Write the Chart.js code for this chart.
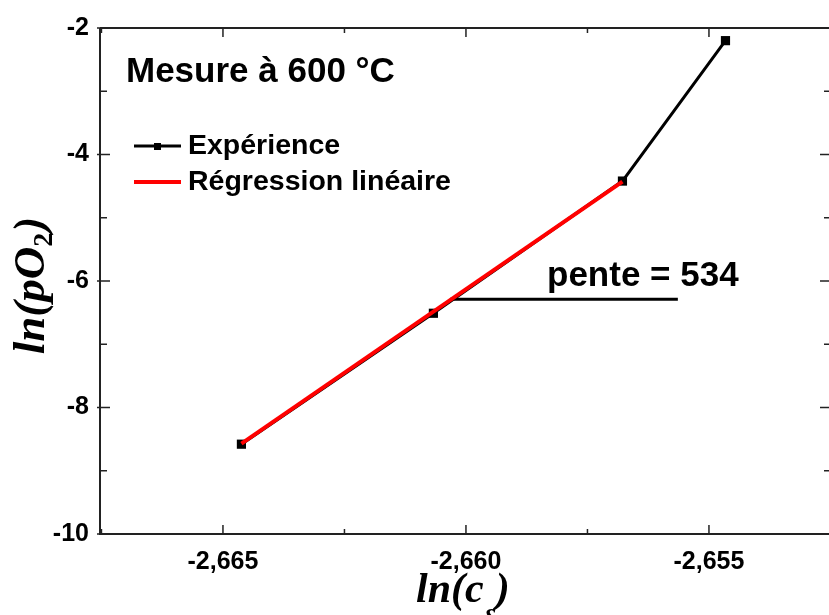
<!DOCTYPE html>
<html>
<head>
<meta charset="utf-8">
<script src="https://cdn.jsdelivr.net/npm/chart.js@4/dist/chart.umd.min.js"></script>
<style>
  body { margin: 0; background: #fff; }
  canvas { display: block; }
</style>
</head>
<body>
<canvas id="grafico_pente" width="829" height="615"></canvas>
<script>
// valeurs
var exp_x = [-2.66462, -2.66067, -2.65678, -2.65466]
var exp_y = [-8.58, -6.51, -4.42, -2.20]
var reg_x = [-2.66462, -2.65678]
var reg_y = [-8.57, -4.43]
var pente_x = [-2.66033, -2.65564]
var pente_y = [-6.29, -6.29]

var ticks_x = [-2.665, -2.660, -2.655]
var ticks_x_mineurs = [-2.6675, -2.6625, -2.6575, -2.6525]
var ticks_y = [-10, -8, -6, -4, -2]
var ticks_y_mineurs = [-9, -7, -5, -3]

var titre = 'Mesure à 600 °C'
var legende_exp = 'Expérience'
var legende_reg = 'Régression linéaire'
var texte_pente = 'pente = 534'

var police = "'Liberation Sans', Arial, sans-serif"
var police_serif = "'Liberation Serif', 'Times New Roman', serif"

function points(xs, ys) {
    var res = []
    for (var i = 0; i < xs.length; i++) {
        res.push({ x: xs[i], y: ys[i] })
    }
    return res
}

var decor = {
    id: 'decor',
    afterDraw: function (chart) {
        var ctx = chart.ctx
        var a = chart.chartArea
        var sx = chart.scales.x
        var sy = chart.scales.y
        var droite = a.right + 1
        ctx.save()

        // cadre
        ctx.strokeStyle = '#222'
        ctx.lineWidth = 2
        ctx.beginPath()
        ctx.moveTo(a.left, a.top)
        ctx.lineTo(droite, a.top)
        ctx.moveTo(a.left, a.top)
        ctx.lineTo(a.left, a.bottom)
        ctx.lineTo(droite, a.bottom)
        ctx.moveTo(droite, a.top)
        ctx.lineTo(droite, a.bottom)
        ctx.stroke()

        // graduations vers l'interieur
        ctx.lineWidth = 1.5
        ctx.beginPath()
        ticks_x.forEach(function (v) {
            var px = sx.getPixelForValue(v)
            ctx.moveTo(px, a.bottom); ctx.lineTo(px, a.bottom - 9)
            ctx.moveTo(px, a.top); ctx.lineTo(px, a.top + 9)
        })
        ticks_x_mineurs.forEach(function (v) {
            var px = sx.getPixelForValue(v)
            ctx.moveTo(px, a.bottom); ctx.lineTo(px, a.bottom - 5)
            ctx.moveTo(px, a.top); ctx.lineTo(px, a.top + 5)
        })
        ticks_y.forEach(function (v) {
            var py = sy.getPixelForValue(v)
            ctx.moveTo(a.left - 3, py); ctx.lineTo(a.left + 10, py)
            ctx.moveTo(droite, py); ctx.lineTo(droite - 10, py)
        })
        ticks_y_mineurs.forEach(function (v) {
            var py = sy.getPixelForValue(v)
            ctx.moveTo(a.left, py); ctx.lineTo(a.left + 7, py)
            ctx.moveTo(droite, py); ctx.lineTo(droite - 6, py)
        })
        ctx.stroke()

        ctx.fillStyle = '#000'
        ctx.textAlign = 'left'
        ctx.textBaseline = 'alphabetic'

        // titre
        ctx.font = 'bold 35px ' + police
        ctx.fillText(titre, 126, 82)

        // legende
        ctx.strokeStyle = '#000'
        ctx.lineWidth = 3
        ctx.beginPath()
        ctx.moveTo(134, 146); ctx.lineTo(181, 146)
        ctx.stroke()
        ctx.fillRect(154, 143, 7, 7)
        ctx.strokeStyle = '#ff0000'
        ctx.lineWidth = 4
        ctx.beginPath()
        ctx.moveTo(134, 182); ctx.lineTo(181, 182)
        ctx.stroke()
        ctx.font = 'bold 28.5px ' + police
        ctx.fillText(legende_exp, 188, 154)
        ctx.fillText(legende_reg, 188, 190)

        // texte de la pente
        ctx.font = 'bold 35px ' + police
        ctx.fillText(texte_pente, 547, 286)

        // titre axe x : ln(c_δ)
        ctx.font = 'bold italic 42px ' + police_serif
        var x0 = 416
        ctx.fillText('ln(c', x0, 602)
        var w = ctx.measureText('ln(c').width
        ctx.fillText(')', x0 + w + 12, 602)
        ctx.font = 'bold italic 28px ' + police_serif
        ctx.fillText('δ', x0 + w - 2, 628)

        // titre axe y : ln(pO2)
        ctx.translate(44, 286)
        ctx.rotate(-Math.PI / 2)
        ctx.font = 'bold italic 45px ' + police_serif
        var t1 = 'ln(pO'
        var w1 = ctx.measureText(t1).width
        ctx.font = 'bold 28px ' + police_serif
        var w2 = ctx.measureText('2').width
        ctx.font = 'bold italic 45px ' + police_serif
        var w3 = ctx.measureText(')').width
        var debut = -(w1 + w2 + w3) / 2
        ctx.fillText(t1, debut, 0)
        ctx.fillText(')', debut + w1 + w2 + 1, 0)
        ctx.font = 'bold 28px ' + police_serif
        ctx.fillText('2', debut + w1, 8)

        ctx.restore()
    }
}

var contexto = document.getElementById('grafico_pente').getContext('2d')
var meuGrafico = new Chart(contexto, {
    type: 'scatter',
    data: {
        datasets: [{
            label: legende_reg,
            data: points(reg_x, reg_y),
            showLine: true,
            borderColor: '#ff0000',
            borderWidth: 4,
            pointRadius: 0,
            order: 0
        }, {
            label: legende_exp,
            data: points(exp_x, exp_y),
            showLine: true,
            borderColor: '#000',
            backgroundColor: '#000',
            borderWidth: 3,
            pointStyle: 'rect',
            pointRadius: 6.5,
            pointBorderWidth: 0,
            order: 1
        }, {
            label: 'pente',
            data: points(pente_x, pente_y),
            showLine: true,
            borderColor: '#000',
            borderWidth: 3,
            pointRadius: 0,
            order: 2
        }]
    },
    options: {
        responsive: false,
        animation: false,
        layout: { autoPadding: false, padding: { top: 28, right: 0, left: 0, bottom: 0 } },
        plugins: {
            legend: { display: false },
            tooltip: { enabled: false }
        },
        scales: {
            x: {
                type: 'linear',
                min: -2.66753,
                max: -2.65253,
                grid: { display: false, drawTicks: false },
                border: { display: false },
                afterBuildTicks: function (scale) {
                    scale.ticks = ticks_x.map(function (v) { return { value: v } })
                },
                afterFit: function (scale) { scale.height = 81 },
                ticks: {
                    color: '#000',
                    padding: 13,
                    maxRotation: 0,
                    font: { family: police, size: 25, weight: 'bold' },
                    callback: function (v) { return v.toFixed(3).replace('.', ',') }
                }
            },
            y: {
                type: 'linear',
                min: -10,
                max: -2,
                grid: { display: false, drawTicks: false },
                border: { display: false },
                afterBuildTicks: function (scale) {
                    scale.ticks = ticks_y.map(function (v) { return { value: v } })
                },
                afterFit: function (scale) { scale.width = 100 },
                ticks: {
                    color: '#000',
                    padding: 11,
                    font: { family: police, size: 25, weight: 'bold' },
                    callback: function (v) { return String(v) }
                }
            }
        }
    },
    plugins: [decor]
})
</script>
</body>
</html>
